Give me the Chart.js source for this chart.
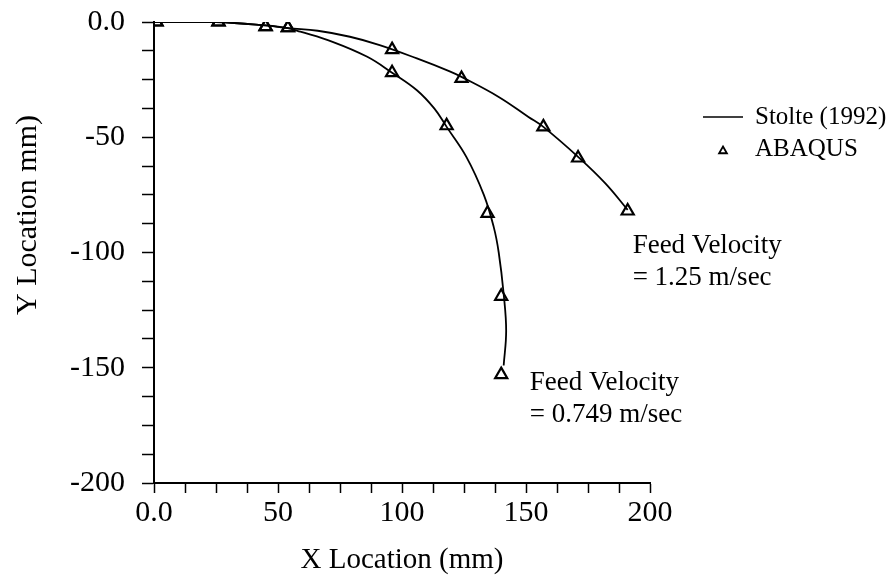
<!DOCTYPE html>
<html><head><meta charset="utf-8">
<script src="https://cdn.jsdelivr.net/npm/chart.js@4.4.1/dist/chart.umd.min.js"></script>
<style>html,body{margin:0;padding:0;background:#fff}#wrap{width:889px;height:578px}</style>
</head><body><div id="wrap"><canvas id="c" width="889" height="578"></canvas></div>
<script>
// Stolte (1992) analytical curves
const stolteFastX = [0, 25, 45, 54, 66, 79, 91, 106, 119, 124, 139, 151, 157, 171, 182, 191];
const stolteFastY = [0, 0, -1.5, -2.7, -3.8, -6.4, -10, -15.8, -21.3, -23.8, -32.5, -41.2, -45.5, -58.5, -70, -81.5];
const stolteSlowX = [0, 25, 45, 54, 59, 72, 86, 96, 106, 113, 118, 126, 133, 137, 139, 141, 142, 141];
const stolteSlowY = [0, 0, -1.5, -2.7, -4.2, -8.6, -15.1, -22, -29.6, -37.5, -45.5, -58.6, -75, -89, -100, -118, -134, -149];
// ABAQUS results
const abaqusFastX = [1, 26, 45, 54, 96, 124, 157, 171, 191];
const abaqusFastY = [0, 0, -2, -2.5, -12, -24.5, -45.5, -59, -82];
const abaqusSlowX = [1, 26, 45, 54, 96, 118, 134.5, 140, 140];
const abaqusSlowY = [0, 0, -2, -2.5, -22, -45, -83, -119, -153];
// axes
const xTickLabels = ['0.0', '50', '100', '150', '200'];
const yTickLabels = ['0.0', '-50', '-100', '-150', '-200'];
const xTitle = 'X Location (mm)';
const yTitle = 'Y Location mm)';
const legendLabels = ['Stolte (1992)', 'ABAQUS'];
const notes = [
  {x: 193, y: -97, lines: ['Feed Velocity', '= 1.25 m/sec']},
  {x: 151.5, y: -156.5, lines: ['Feed Velocity', '= 0.749 m/sec']}
];

const pts = (xs, ys) => xs.map((x, i) => ({x, y: ys[i]}));
const FONT = '"Liberation Serif", "Times New Roman", serif';

const overlay = {
  id: 'overlay',
  afterDraw(chart) {
    const ctx = chart.ctx, xs = chart.scales.x, ys = chart.scales.y;
    ctx.save();
    ctx.fillStyle = '#000'; ctx.strokeStyle = '#000';
    // y title
    ctx.font = '30px ' + FONT;
    ctx.textAlign = 'center'; ctx.textBaseline = 'middle';
    ctx.save(); ctx.translate(28, 215); ctx.rotate(-Math.PI / 2);
    ctx.fillText(yTitle, 0, 0); ctx.restore();
    // annotations
    ctx.font = '27px ' + FONT;
    ctx.textAlign = 'left';
    notes.forEach(n => {
      const px = xs.getPixelForValue(n.x), py = ys.getPixelForValue(n.y);
      n.lines.forEach((t, i) => ctx.fillText(t, px, py + i * 32));
    });
    // legend
    const lx = 703, ly = 117;
    ctx.font = '25px ' + FONT;
    ctx.lineWidth = 1.5;
    ctx.beginPath(); ctx.moveTo(lx, ly); ctx.lineTo(lx + 40, ly); ctx.stroke();
    ctx.fillText(legendLabels[0], lx + 52, ly);
    // small triangle
    const tx = lx + 20, ty = ly + 34, r = 4.5;
    ctx.lineWidth = 1.8;
    ctx.beginPath();
    ctx.moveTo(tx, ty - r);
    ctx.lineTo(tx + r * 0.866, ty + r * 0.5);
    ctx.lineTo(tx - r * 0.866, ty + r * 0.5);
    ctx.closePath(); ctx.stroke();
    ctx.fillText(legendLabels[1], lx + 52, ly + 32);
    ctx.restore();
  }
};

const lineDs = (label, d) => ({type: 'line', label, data: d, borderColor: '#000', borderWidth: 1.8,
  pointRadius: 0, tension: 0.4, fill: false});
const triDs = (label, d) => ({type: 'scatter', label, data: d, borderColor: '#000', backgroundColor: 'rgba(0,0,0,0)',
  pointStyle: 'triangle', pointRadius: 7, borderWidth: 2.2});

new Chart(document.getElementById('c'), {
  data: {
    datasets: [
      lineDs(legendLabels[0], pts(stolteFastX, stolteFastY)),
      lineDs(legendLabels[0], pts(stolteSlowX, stolteSlowY)),
      triDs(legendLabels[1], pts(abaqusFastX, abaqusFastY)),
      triDs(legendLabels[1], pts(abaqusSlowX, abaqusSlowY))
    ]
  },
  options: {
    responsive: false, animation: false, devicePixelRatio: 1,
    layout: {padding: {left: 0, top: 22, right: 239, bottom: 0}},
    plugins: {legend: {display: false}, tooltip: {enabled: false}},
    scales: {
      x: {
        type: 'linear', min: 0, max: 200,
        afterFit: s => { s.height = 95; s.paddingLeft = 0; s.paddingRight = 0; },
        ticks: {stepSize: 12.5, autoSkip: false, maxRotation: 0, padding: 2, color: '#000',
          font: {family: FONT, size: 30},
          callback: v => (v % 50 === 0 ? xTickLabels[v / 50] : '')},
        grid: {drawOnChartArea: false, drawTicks: true, tickLength: 10, tickColor: '#000', tickWidth: 1.5},
        border: {display: true, color: '#000', width: 2},
        title: {display: true, text: xTitle, color: '#000', font: {family: FONT, size: 29}, padding: {top: 0, bottom: 0}}
      },
      y: {
        type: 'linear', min: -200, max: 0,
        afterFit: s => { s.width = 154; s.paddingTop = 0; s.paddingBottom = 0; },
        ticks: {stepSize: 12.5, autoSkip: false, padding: 17, color: '#000',
          font: {family: FONT, size: 30},
          callback: v => (v % 50 === 0 ? yTickLabels[-v / 50] : '')},
        grid: {drawOnChartArea: false, drawTicks: true, tickLength: 12, tickColor: '#000', tickWidth: 1.5},
        border: {display: true, color: '#000', width: 2}
      }
    }
  },
  plugins: [overlay]
});
</script></body></html>
